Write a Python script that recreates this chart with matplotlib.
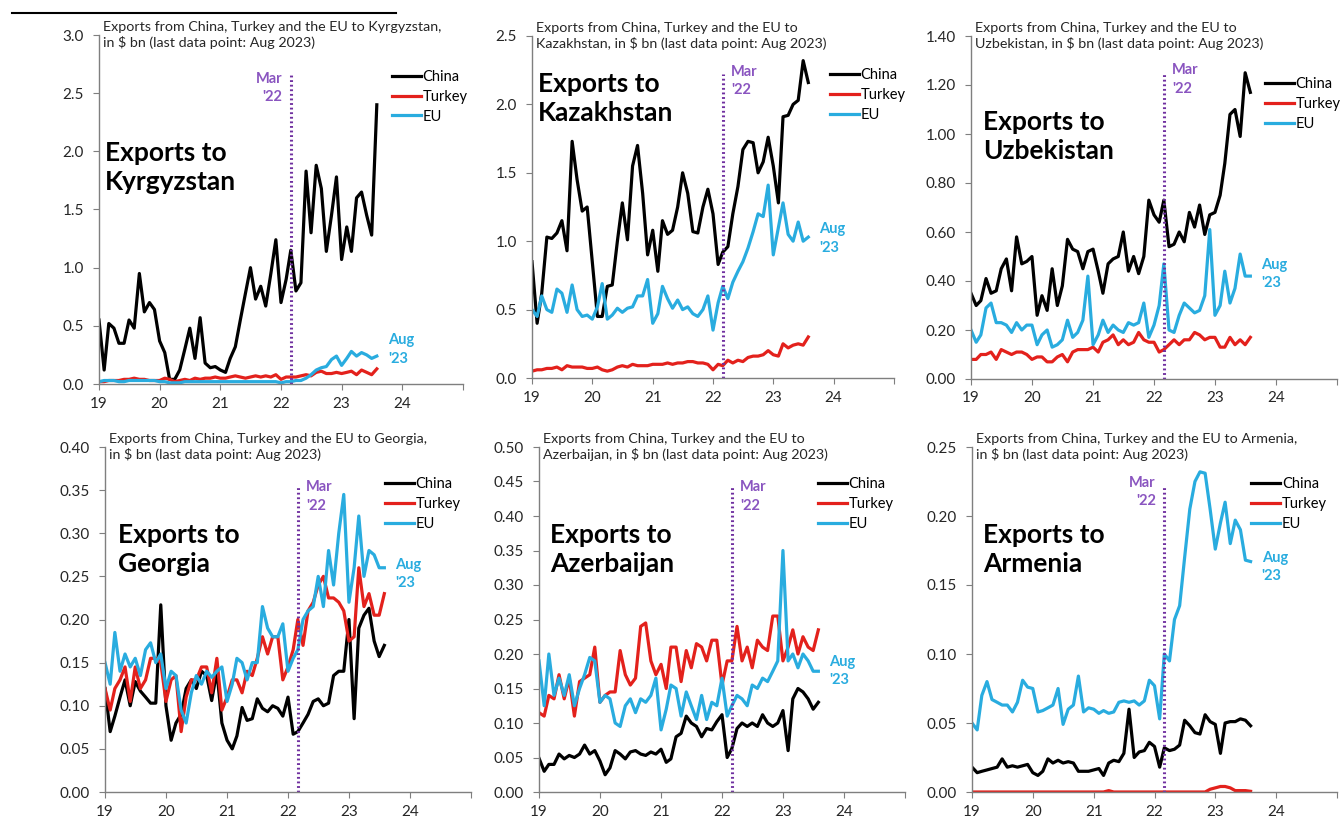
import matplotlib
matplotlib.use('Agg')
import matplotlib.pyplot as plt
from matplotlib.lines import Line2D
import numpy as np
import pandas as pd

plt.rcParams['font.family'] = ['Lato', 'DejaVu Sans']

# monthly, Jan 2019 .. Aug 2023
months = pd.date_range('2019-01-01', periods=56, freq='MS')
mar22 = pd.Timestamp('2022-03-01')
years = ['19', '20', '21', '22', '23', '24']

# ---- Kyrgyzstan ($ bn)
kgz_china = [0.55, 0.12, 0.52, 0.48, 0.35, 0.35, 0.55, 0.48, 0.95, 0.62, 0.70, 0.64,
             0.37, 0.27, 0.04, 0.04, 0.12, 0.30, 0.48, 0.22, 0.57, 0.18, 0.14, 0.15,
             0.12, 0.10, 0.22, 0.32, 0.55, 0.78, 1.00, 0.73, 0.84, 0.67, 0.95, 1.24,
             0.70, 0.90, 1.15, 0.80, 0.87, 1.83, 1.30, 1.88, 1.68, 1.14, 1.45, 1.78,
             1.07, 1.35, 1.14, 1.60, 1.65, 1.45, 1.28, 2.40]
kgz_turkey = [0.02, 0.02, 0.03, 0.03, 0.03, 0.04, 0.04, 0.05, 0.04, 0.04, 0.03, 0.03,
              0.03, 0.05, 0.04, 0.02, 0.03, 0.04, 0.03, 0.05, 0.04, 0.05, 0.05, 0.06,
              0.05, 0.05, 0.06, 0.07, 0.06, 0.05, 0.06, 0.07, 0.06, 0.07, 0.06, 0.08,
              0.04, 0.06, 0.06, 0.06, 0.07, 0.08, 0.07, 0.10, 0.11, 0.09, 0.09, 0.10,
              0.09, 0.10, 0.11, 0.08, 0.12, 0.10, 0.08, 0.13]
kgz_eu = [0.02, 0.03, 0.03, 0.03, 0.02, 0.02, 0.03, 0.03, 0.03, 0.03, 0.03, 0.03,
          0.02, 0.02, 0.01, 0.01, 0.01, 0.02, 0.02, 0.02, 0.02, 0.02, 0.02, 0.02,
          0.02, 0.02, 0.02, 0.02, 0.02, 0.02, 0.02, 0.02, 0.02, 0.02, 0.02, 0.02,
          0.01, 0.02, 0.02, 0.03, 0.03, 0.05, 0.08, 0.12, 0.14, 0.15, 0.21, 0.24,
          0.16, 0.22, 0.28, 0.24, 0.27, 0.25, 0.22, 0.24]

# ---- Kazakhstan
kaz_china = [0.85, 0.40, 0.62, 1.03, 1.02, 1.06, 1.15, 0.93, 1.73, 1.45, 1.22, 1.25,
             0.85, 0.45, 0.45, 0.67, 0.68, 1.00, 1.28, 1.01, 1.55, 1.70, 1.35, 0.90,
             1.08, 0.78, 1.15, 1.05, 1.08, 1.25, 1.50, 1.35, 1.07, 1.06, 1.25, 1.38,
             1.20, 0.83, 0.92, 0.96, 1.20, 1.40, 1.67, 1.73, 1.72, 1.50, 1.58, 1.76,
             1.55, 1.28, 1.91, 1.92, 2.00, 2.03, 2.32, 2.16]
kaz_turkey = [0.05, 0.06, 0.06, 0.07, 0.07, 0.08, 0.06, 0.09, 0.08, 0.08, 0.08, 0.07,
              0.07, 0.08, 0.06, 0.05, 0.06, 0.08, 0.09, 0.08, 0.10, 0.09, 0.09, 0.09,
              0.10, 0.10, 0.10, 0.11, 0.10, 0.11, 0.11, 0.12, 0.12, 0.11, 0.11, 0.10,
              0.06, 0.10, 0.09, 0.13, 0.11, 0.13, 0.12, 0.15, 0.16, 0.16, 0.17, 0.20,
              0.17, 0.16, 0.25, 0.22, 0.24, 0.25, 0.24, 0.30]
kaz_eu = [0.50, 0.45, 0.60, 0.50, 0.48, 0.65, 0.62, 0.48, 0.68, 0.50, 0.45, 0.46,
          0.43, 0.52, 0.69, 0.43, 0.46, 0.51, 0.48, 0.51, 0.52, 0.60, 0.60, 0.72,
          0.40, 0.47, 0.67, 0.58, 0.51, 0.57, 0.50, 0.52, 0.47, 0.45, 0.50, 0.60,
          0.35, 0.55, 0.67, 0.58, 0.70, 0.78, 0.85, 0.95, 1.07, 1.20, 1.18, 1.41,
          0.90, 1.10, 1.28, 1.05, 1.00, 1.14, 1.00, 1.03]

# ---- Uzbekistan
uzb_china = [0.35, 0.30, 0.32, 0.41, 0.35, 0.36, 0.45, 0.49, 0.36, 0.58, 0.47, 0.48,
             0.50, 0.26, 0.34, 0.28, 0.45, 0.30, 0.38, 0.57, 0.53, 0.52, 0.45, 0.52,
             0.53, 0.44, 0.35, 0.47, 0.49, 0.50, 0.60, 0.44, 0.50, 0.43, 0.50, 0.73,
             0.67, 0.64, 0.73, 0.54, 0.55, 0.60, 0.56, 0.68, 0.62, 0.71, 0.59, 0.67,
             0.68, 0.75, 0.88, 1.08, 1.10, 0.99, 1.25, 1.17]
uzb_turkey = [0.08, 0.08, 0.10, 0.10, 0.11, 0.08, 0.12, 0.11, 0.10, 0.11, 0.11, 0.10,
              0.08, 0.09, 0.09, 0.07, 0.07, 0.09, 0.10, 0.07, 0.11, 0.12, 0.12, 0.12,
              0.13, 0.11, 0.15, 0.16, 0.18, 0.14, 0.16, 0.14, 0.15, 0.19, 0.16, 0.15,
              0.15, 0.11, 0.12, 0.14, 0.16, 0.14, 0.16, 0.16, 0.19, 0.18, 0.16, 0.17,
              0.17, 0.13, 0.13, 0.17, 0.14, 0.16, 0.14, 0.17]
uzb_eu = [0.20, 0.15, 0.18, 0.29, 0.31, 0.23, 0.23, 0.22, 0.19, 0.23, 0.20, 0.22,
          0.22, 0.14, 0.18, 0.20, 0.13, 0.14, 0.16, 0.24, 0.17, 0.19, 0.24, 0.42,
          0.14, 0.18, 0.24, 0.19, 0.22, 0.20, 0.19, 0.23, 0.22, 0.23, 0.31, 0.17,
          0.22, 0.30, 0.47, 0.20, 0.19, 0.26, 0.31, 0.29, 0.27, 0.28, 0.34, 0.61,
          0.26, 0.30, 0.44, 0.31, 0.37, 0.51, 0.42, 0.42]

# ---- Georgia
geo_china = [0.120, 0.070, 0.088, 0.110, 0.130, 0.100, 0.128, 0.117, 0.110, 0.103, 0.103, 0.217,
             0.100, 0.060, 0.080, 0.090, 0.120, 0.130, 0.120, 0.140, 0.135, 0.106, 0.140, 0.080,
             0.060, 0.050, 0.065, 0.098, 0.083, 0.085, 0.108, 0.097, 0.093, 0.100, 0.097, 0.088,
             0.110, 0.067, 0.070, 0.080, 0.090, 0.105, 0.108, 0.100, 0.103, 0.135, 0.140, 0.140,
             0.200, 0.085, 0.190, 0.205, 0.213, 0.175, 0.157, 0.170]
geo_turkey = [0.120, 0.095, 0.120, 0.130, 0.145, 0.105, 0.145, 0.120, 0.130, 0.155, 0.155, 0.150,
              0.105, 0.130, 0.135, 0.070, 0.110, 0.130, 0.130, 0.145, 0.145, 0.115, 0.155, 0.095,
              0.110, 0.130, 0.130, 0.115, 0.140, 0.135, 0.155, 0.180, 0.160, 0.180, 0.180, 0.130,
              0.145, 0.165, 0.200, 0.170, 0.210, 0.220, 0.240, 0.250, 0.225, 0.225, 0.220, 0.210,
              0.175, 0.180, 0.260, 0.215, 0.230, 0.205, 0.205, 0.230]
geo_eu = [0.150, 0.125, 0.185, 0.140, 0.160, 0.145, 0.155, 0.135, 0.165, 0.173, 0.150, 0.160,
          0.120, 0.140, 0.135, 0.095, 0.080, 0.115, 0.135, 0.125, 0.140, 0.133, 0.140, 0.145,
          0.105, 0.125, 0.155, 0.150, 0.130, 0.150, 0.150, 0.215, 0.190, 0.180, 0.180, 0.195,
          0.140, 0.155, 0.165, 0.200, 0.210, 0.215, 0.250, 0.215, 0.280, 0.240, 0.300, 0.345,
          0.220, 0.260, 0.320, 0.250, 0.280, 0.275, 0.260, 0.260]

# ---- Azerbaijan
aze_china = [0.049, 0.030, 0.040, 0.040, 0.055, 0.048, 0.053, 0.050, 0.055, 0.068, 0.055, 0.060,
             0.045, 0.025, 0.035, 0.060, 0.055, 0.048, 0.058, 0.060, 0.055, 0.053, 0.058, 0.055,
             0.062, 0.043, 0.048, 0.080, 0.085, 0.110, 0.100, 0.095, 0.080, 0.092, 0.090, 0.102,
             0.112, 0.050, 0.063, 0.092, 0.100, 0.095, 0.100, 0.095, 0.112, 0.100, 0.095, 0.100,
             0.118, 0.060, 0.135, 0.150, 0.145, 0.135, 0.120, 0.130]
aze_turkey = [0.115, 0.110, 0.140, 0.135, 0.170, 0.135, 0.165, 0.110, 0.160, 0.165, 0.170, 0.210,
              0.130, 0.140, 0.145, 0.145, 0.205, 0.170, 0.155, 0.165, 0.240, 0.245, 0.190, 0.170,
              0.185, 0.150, 0.210, 0.210, 0.160, 0.205, 0.180, 0.215, 0.210, 0.190, 0.220, 0.220,
              0.155, 0.190, 0.190, 0.240, 0.190, 0.210, 0.180, 0.220, 0.210, 0.205, 0.255, 0.255,
              0.190, 0.210, 0.235, 0.200, 0.225, 0.210, 0.205, 0.235]
aze_eu = [0.190, 0.125, 0.200, 0.140, 0.165, 0.140, 0.170, 0.125, 0.150, 0.170, 0.195, 0.190,
          0.130, 0.140, 0.135, 0.100, 0.095, 0.125, 0.135, 0.115, 0.135, 0.130, 0.140, 0.165,
          0.090, 0.120, 0.155, 0.150, 0.110, 0.145, 0.125, 0.105, 0.140, 0.105, 0.130, 0.125,
          0.165, 0.110, 0.125, 0.140, 0.135, 0.125, 0.155, 0.150, 0.165, 0.160, 0.175, 0.190,
          0.350, 0.190, 0.200, 0.180, 0.200, 0.190, 0.175, 0.175]

# ---- Armenia
arm_china = [0.018, 0.014, 0.015, 0.016, 0.017, 0.018, 0.024, 0.018, 0.019, 0.018, 0.019, 0.020,
             0.014, 0.012, 0.015, 0.024, 0.021, 0.023, 0.021, 0.022, 0.021, 0.015, 0.015, 0.015,
             0.016, 0.017, 0.012, 0.021, 0.023, 0.022, 0.028, 0.060, 0.025, 0.029, 0.030, 0.036,
             0.033, 0.018, 0.032, 0.030, 0.031, 0.034, 0.052, 0.048, 0.043, 0.042, 0.056, 0.051,
             0.049, 0.028, 0.050, 0.051, 0.051, 0.053, 0.052, 0.048]
arm_turkey = [0.0, 0.0, 0.0, 0.0, 0.0, 0.0, 0.0, 0.0, 0.0, 0.0, 0.0, 0.0,
              0.0, 0.0, 0.0, 0.0, 0.0, 0.0, 0.0, 0.0, 0.0, 0.0, 0.0, 0.0,
              0.0, 0.0, 0.0, 0.001, 0.0, 0.0, 0.0, 0.0, 0.0, 0.0, 0.0, 0.0,
              0.0, 0.0, 0.0, 0.0, 0.0, 0.0, 0.0, 0.0, 0.0, 0.0, 0.0, 0.002,
              0.003, 0.004, 0.004, 0.003, 0.001, 0.001, 0.001, 0.0005]
arm_eu = [0.050, 0.045, 0.070, 0.080, 0.067, 0.065, 0.063, 0.063, 0.058, 0.065, 0.081, 0.076,
          0.075, 0.058, 0.059, 0.061, 0.063, 0.075, 0.049, 0.060, 0.063, 0.084, 0.058, 0.061,
          0.060, 0.057, 0.059, 0.057, 0.058, 0.065, 0.066, 0.065, 0.066, 0.063, 0.066, 0.081,
          0.077, 0.053, 0.100, 0.095, 0.125, 0.135, 0.170, 0.205, 0.225, 0.232, 0.231, 0.205,
          0.176, 0.195, 0.210, 0.180, 0.197, 0.190, 0.168, 0.167]

c_china = '#000000'
c_turkey = '#e3211c'
c_eu = '#29acdf'
c_purple = '#7030a0'
c_mar = '#8a55c0'

panels = [
    dict(name='Kyrgyzstan', sub='Exports from China, Turkey and the EU to Kyrgyzstan,\nin $ bn (last data point: Aug 2023)',
         data=(kgz_china, kgz_turkey, kgz_eu), ymax=3.0, step=0.5, fmt='{:.1f}',
         pos=[99, 35, 463, 384], big=(0.016, 0.695), leg=(0.805, 0.90), mar=(-1, 0.895), aug=0.145),
    dict(name='Kazakhstan', sub='Exports from China, Turkey and the EU to\nKazakhstan, in $ bn (last data point: Aug 2023)',
         data=(kaz_china, kaz_turkey, kaz_eu), ymax=2.5, step=0.5, fmt='{:.1f}',
         pos=[532, 36, 894, 378], big=(0.017, 0.895), leg=(0.823, 0.905), mar=(1, 0.915), aug=0.455),
    dict(name='Uzbekistan', sub='Exports from China, Turkey and the EU to\nUzbekistan, in $ bn (last data point: Aug 2023)',
         data=(uzb_china, uzb_turkey, uzb_eu), ymax=1.4, step=0.2, fmt='{:.2f}',
         pos=[971, 36, 1337, 379], big=(0.033, 0.785), leg=(0.803, 0.88), mar=(1, 0.92), aug=0.353),
    dict(name='Georgia', sub='Exports from China, Turkey and the EU to Georgia,\nin $ bn (last data point: Aug 2023)',
         data=(geo_china, geo_turkey, geo_eu), ymax=0.40, step=0.05, fmt='{:.2f}',
         pos=[105, 447, 471, 792], big=(0.035, 0.78), leg=(0.765, 0.912), mar=(1, 0.904), aug=0.678),
    dict(name='Azerbaijan', sub='Exports from China, Turkey and the EU to\nAzerbaijan, in $ bn (last data point: Aug 2023)',
         data=(aze_china, aze_turkey, aze_eu), ymax=0.50, step=0.05, fmt='{:.2f}',
         pos=[539, 447, 905, 792], big=(0.03, 0.78), leg=(0.762, 0.912), mar=(1, 0.904), aug=0.397),
    dict(name='Armenia', sub='Exports from China, Turkey and the EU to Armenia,\nin $ bn (last data point: Aug 2023)',
         data=(arm_china, arm_turkey, arm_eu), ymax=0.25, step=0.05, fmt='{:.2f}',
         pos=[972, 447, 1337, 792], big=(0.03, 0.78), leg=(0.765, 0.912), mar=(-1, 0.916), aug=0.70),
]

W, H = 1342, 821
fig = plt.figure(figsize=(W / 100, H / 100), dpi=100)
fig.add_artist(Line2D([12 / W, 396 / W], [1 - 13 / H] * 2, color='black', lw=1.5))

for p in panels:
    x0, y0, x1, y1 = p['pos']
    ax = fig.add_axes([x0 / W, 1 - y1 / H, (x1 - x0) / W, (y1 - y0) / H])
    china, turkey, eu = p['data']
    ax.plot(months, china, color=c_china, lw=2.3, label='China')
    ax.plot(months, turkey, color=c_turkey, lw=2.3, label='Turkey')
    ax.plot(months, eu, color=c_eu, lw=2.3, label='EU')

    ax.axvline(mar22, ymin=0, ymax=0.89, color=c_purple, lw=2.2, linestyle=(0, (0.6, 0.9)))

    ax.set_xlim(pd.Timestamp('2019-01-01'), pd.Timestamp('2025-01-01'))
    ax.set_xticks([pd.Timestamp(f'20{y}-01-01') for y in years] + [pd.Timestamp('2025-01-01')])
    ax.set_xticklabels(years + [''])
    ax.set_ylim(0, p['ymax'])
    yt = np.arange(0, p['ymax'] + p['step'] / 2, p['step'])
    ax.set_yticks(yt)
    ax.set_yticklabels([p['fmt'].format(v) for v in yt])

    for s in ['top', 'right']:
        ax.spines[s].set_visible(False)
    for s in ['left', 'bottom']:
        ax.spines[s].set_color('#7f7f7f')
        ax.spines[s].set_linewidth(1.0)
    ax.tick_params(axis='both', direction='out', length=4, color='#7f7f7f',
                   labelsize=11, labelcolor='#262626')
    ax.tick_params(axis='x', pad=5)
    ax.tick_params(axis='y', pad=7)
    ax.set_facecolor('none')

    ax.text(0.01, 1.0, p['sub'], transform=ax.transAxes, ha='left', va='center',
            fontsize=10.3, color='#262626', linespacing=1.3)
    ax.text(p['big'][0], p['big'][1], 'Exports to\n' + p['name'], transform=ax.transAxes,
            ha='left', va='top', fontsize=19, fontweight='bold', color='black', linespacing=1.25)

    ax.legend(loc='upper left', bbox_to_anchor=p['leg'], frameon=False, fontsize=10.5,
              handlelength=2.0, handletextpad=0.1, labelspacing=0.4,
              borderaxespad=0, borderpad=0)

    side, ymar = p['mar']
    ax.annotate("Mar\n'22", xy=(mar22, ymar), xycoords=('data', 'axes fraction'),
                xytext=(6 * side, 0), textcoords='offset points',
                ha='left' if side > 0 else 'right', va='top',
                fontsize=10.5, fontweight='bold', color=c_mar, linespacing=1.4)
    ax.annotate("Aug\n'23", xy=(months[-1], p['aug']), xycoords=('data', 'axes fraction'),
                xytext=(8, 0), textcoords='offset points', ha='left', va='top',
                fontsize=10.5, fontweight='bold', color=c_eu, linespacing=1.4)

fig.savefig('out.png', dpi=100)
